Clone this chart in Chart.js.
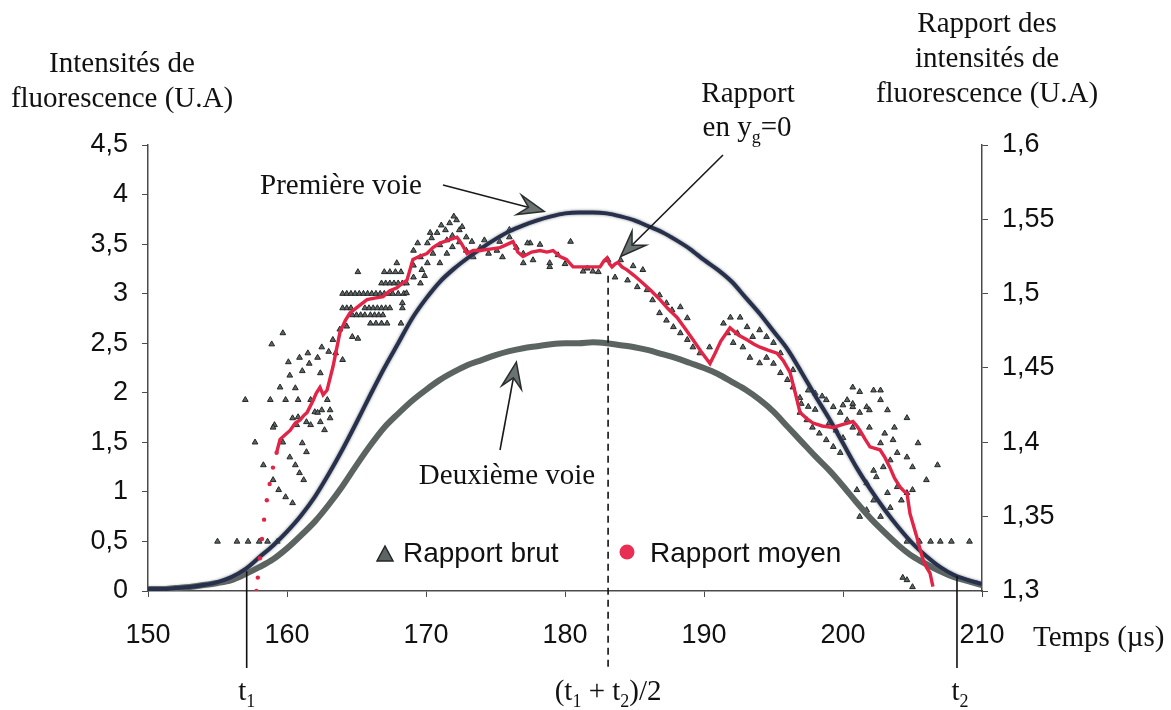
<!DOCTYPE html>
<html>
<head>
<meta charset="utf-8">
<script src="https://cdn.jsdelivr.net/npm/chart.js@4"></script>
<style>
html, body { margin: 0; padding: 0; background: #fff; }
</style>
</head>
<body>
<canvas id="myChart" width="1171" height="710"></canvas>
<script>
// time axis (µs) for both fluorescence channels
var temps = [150,151,152,153,154,155,156,157,158,159,160,161,162,163,164,165,166,167,168,169,170,
             171,172,173,174,175,176,177,178,179,180,181,182,183,184,185,186,187,188,189,190,
             191,192,193,194,195,196,197,198,199,200,201,202,203,204,205,206,207,208,209,210];

var premiereVoie = [0.02,0.02,0.03,0.04,0.06,0.09,0.14,0.22,0.34,0.46,0.60,0.76,0.95,1.18,1.43,1.70,1.98,2.25,2.50,2.75,2.95,
                    3.12,3.25,3.36,3.46,3.55,3.63,3.69,3.74,3.78,3.81,3.82,3.82,3.81,3.78,3.74,3.68,3.62,3.54,3.45,3.34,
                    3.24,3.12,2.96,2.80,2.62,2.44,2.21,1.97,1.74,1.49,1.24,1.02,0.82,0.64,0.48,0.35,0.24,0.16,0.11,0.07];

var deuxiemeVoie = [0.02,0.02,0.03,0.04,0.06,0.08,0.11,0.17,0.24,0.32,0.43,0.56,0.70,0.87,1.06,1.27,1.47,1.65,1.79,1.92,2.03,
                    2.13,2.21,2.28,2.33,2.38,2.42,2.45,2.47,2.49,2.50,2.50,2.51,2.50,2.48,2.46,2.43,2.39,2.35,2.30,2.25,
                    2.19,2.11,2.03,1.93,1.81,1.66,1.51,1.36,1.22,1.06,0.89,0.73,0.59,0.46,0.35,0.27,0.20,0.14,0.10,0.06];

// averaged ratio (right axis)
var moyenX = [157.80,157.90,158.05,158.20,158.35,158.55,158.75,158.99,159.25,159.50,159.85,160.22,160.60,160.94,161.20,161.44,
              161.87,162.10,162.37,162.60,162.88,163.31,163.81,164.20,164.53,165.20,165.76,166.30,166.91,167.40,167.91,168.30,
              168.63,169.06,169.50,170.07,170.50,171.01,171.60,172.23,172.60,172.95,173.40,173.88,174.60,175.32,175.80,176.26,
              176.60,176.98,177.60,178.20,178.70,179.14,179.64,180.10,180.58,181.29,181.90,182.52,182.80,183.02,183.20,183.38,
              183.60,183.81,184.10,184.46,185.00,185.61,186.20,186.83,187.40,188.06,188.60,189.21,189.80,190.43,190.80,191.20,
              191.87,192.50,193.09,193.60,194.03,194.60,195.25,195.70,196.19,196.60,196.91,197.40,197.84,198.50,199.28,200.00,
              200.72,201.00,201.22,201.60,201.94,202.30,202.66,203.00,203.38,203.70,204.10,204.40,204.60,204.82,205.10,205.32,
              205.55,205.76,206.00,206.26,206.47];
var moyenY = [1.300,1.309,1.322,1.335,1.348,1.361,1.372,1.383,1.393,1.402,1.405,1.408,1.413,1.415,1.418,1.420,
              1.428,1.433,1.437,1.432,1.435,1.451,1.474,1.482,1.487,1.492,1.496,1.497,1.498,1.502,1.504,1.507,
              1.509,1.523,1.525,1.527,1.531,1.534,1.536,1.538,1.533,1.527,1.529,1.529,1.530,1.531,1.533,1.535,
              1.528,1.525,1.528,1.529,1.528,1.529,1.525,1.523,1.518,1.518,1.518,1.518,1.522,1.524,1.520,1.518,
              1.520,1.521,1.518,1.516,1.512,1.507,1.502,1.496,1.490,1.484,1.477,1.469,1.461,1.453,1.460,1.468,
              1.477,1.472,1.469,1.466,1.464,1.462,1.460,1.455,1.447,1.432,1.420,1.416,1.413,1.411,1.410,1.412,
              1.414,1.411,1.408,1.402,1.397,1.396,1.395,1.390,1.383,1.376,1.370,1.367,1.366,1.352,1.343,1.336,
              1.328,1.321,1.316,1.312,1.303];

// raw ratio samples [time, ratio]
var brutPoints = [
  [155.0,1.3333],[156.4,1.3333],[157.2,1.3333],[158.0,1.3333],[158.6,1.3333],[159.3,1.3333],
  [157.0,1.4286],[158.8,1.4286],[159.9,1.4286],[160.8,1.4286],[161.7,1.4286],[162.9,1.4286],
  [157.7,1.4000],[158.3,1.3847],[159.0,1.3747],[159.4,1.3680],[159.9,1.3632],[160.4,1.3592],
  [160.2,1.3900],[160.6,1.3847],[160.9,1.3794],[161.2,1.3747],[161.4,1.3935],[161.1,1.3995],
  [159.7,1.4000],[159.1,1.4117],[160.4,1.4163],[160.7,1.4117],[161.7,1.4117],[162.4,1.4137],
  [162.7,1.4083],[163.1,1.4163],[162.0,1.4204],[162.5,1.4217],[159.0,1.4100],[160.8,1.4170],
  [161.4,1.4137],[163.1,1.4217],[162.2,1.4200],
  [159.7,1.4735],[158.9,1.4660],[160.1,1.4540],[161.1,1.4480],[160.9,1.4570],[161.6,1.4530],
  [161.5,1.4600],[162.2,1.4570],[162.5,1.4640],[163.0,1.4610],[163.3,1.4690],[163.8,1.4760],
  [164.3,1.4780],[164.7,1.4710],[160.2,1.4450],[159.5,1.4370],[160.6,1.4365],[162.4,1.4466],
  [164.0,1.4555],[165.1,1.4698],[163.5,1.4600],
  [164.0,1.5000],[164.3,1.5000],[164.6,1.5000],[164.9,1.5000],[165.2,1.5000],[165.5,1.5000],[165.8,1.5000],
  [166.1,1.5000],[166.4,1.5000],[166.7,1.5000],[167.0,1.5000],[167.3,1.5000],[167.6,1.5000],[168.0,1.5000],[168.4,1.5000],
  [164.0,1.4903],[164.3,1.4903],[164.6,1.4903],[165.6,1.4903],[165.9,1.4903],[166.2,1.4903],[166.5,1.4903],
  [166.8,1.4903],[167.1,1.4903],[167.4,1.4903],[168.3,1.4903],
  [164.7,1.4856],[165.0,1.4856],[165.3,1.4856],[165.6,1.4856],[166.0,1.4856],[166.3,1.4856],[166.6,1.4856],[166.9,1.4856],
  [166.0,1.4800],[166.4,1.4800],[166.8,1.4800],[167.2,1.4800],[168.2,1.4800],
  [166.8,1.5070],[167.1,1.5070],[167.4,1.5070],[167.7,1.5070],[168.0,1.5070],[168.3,1.5070],[168.6,1.5070],
  [165.1,1.5146],[167.0,1.5146],[167.4,1.5146],[167.8,1.5146],[168.2,1.5146],[167.9,1.5206],
  [169.1,1.5290],[169.4,1.5340],[169.1,1.5190],[169.6,1.5246],[169.7,1.5160],[170.1,1.5340],[170.4,1.5374],
  [170.1,1.5206],[170.5,1.5270],[170.8,1.5410],[171.0,1.5327],[171.4,1.5428],[171.5,1.5360],[171.7,1.5475],
  [171.9,1.5390],[172.2,1.5495],[172.4,1.5428],[171.0,1.5206],[171.5,1.5270],[171.9,1.5314],[172.4,1.5347],
  [172.9,1.5290],[173.4,1.5246],[173.9,1.5310],[174.5,1.5270],[175.1,1.5290],[175.5,1.5246],[176.0,1.5380],
  [176.5,1.5310],[177.0,1.5270],[177.5,1.5340],[177.7,1.5226],[178.9,1.5180],[179.5,1.5260],[169.1,1.5110],
  [169.6,1.5070],[168.6,1.5004],[168.3,1.4937],[169.9,1.5120],[170.3,1.5410],[171.1,1.5460],[172.0,1.5520],
  [172.6,1.5450],[172.9,1.5380],[173.3,1.5350],
  [174.2,1.5360],[175.3,1.5350],[176.0,1.5430],[177.3,1.5340],[178.2,1.5330],[177.0,1.5206],[178.9,1.5206],
  [180.4,1.5350],[181.6,1.5170],[182.4,1.5146],[183.1,1.5226],[183.6,1.5110],[184.0,1.5226],[184.5,1.5090],
  [184.9,1.5186],[185.6,1.5160],[185.2,1.5045],[185.9,1.5025],[186.3,1.4957],[186.8,1.4990],[187.3,1.4937],
  [187.7,1.4890],[188.3,1.4910],[188.8,1.4836],[186.8,1.4870],[187.3,1.4820],[187.8,1.4776],[188.3,1.4735],
  [188.8,1.4690],[189.2,1.4640],[189.7,1.4600],[181.3,1.5150],[182.0,1.5150],[180.0,1.5200],
  [190.4,1.4640],[191.4,1.4800],[191.9,1.4840],[192.6,1.4840],[193.1,1.4776],[191.7,1.4735],[192.4,1.4735],
  [192.1,1.4670],[192.8,1.4640],[193.5,1.4710],[194.0,1.4755],[194.5,1.4710],[195.0,1.4670],[193.3,1.4570],
  [194.0,1.4533],[194.5,1.4570],[195.0,1.4530],[195.5,1.4600],[195.5,1.4467],[196.0,1.4420],[196.4,1.4370],
  [196.4,1.4487],[196.9,1.4300],[196.9,1.4200],[197.4,1.4150],[197.8,1.4100],[198.3,1.4060],[198.8,1.4016],
  [199.3,1.3970],[199.8,1.3930],[198.8,1.4285],[199.3,1.4238],[199.8,1.4200],[200.3,1.4150],[200.7,1.4100],
  [201.2,1.4060],[200.3,1.4285],[200.7,1.4238],[201.2,1.4200],[200.7,1.4370],[201.7,1.4238],
  [197.0,1.4260],[197.5,1.4240],[198.0,1.4220],[198.0,1.4330],[198.5,1.4310],[197.5,1.4350],[199.0,1.4130],
  [199.5,1.4080],[200.0,1.4030],[200.0,1.4250],[201.2,1.4340],[202.2,1.4350],
  [202.7,1.4350],[204.6,1.4164],[206.8,1.3847],[206.0,1.3747],[205.4,1.3995],[205.0,1.3680],[204.2,1.3610],
  [203.4,1.3560],[202.7,1.3500],[204.6,1.3660],[203.9,1.3700],[203.2,1.3660],[202.2,1.3610],[201.7,1.3545],
  [201.2,1.3500],[202.4,1.3767],[201.7,1.3726],[201.0,1.3680],[202.9,1.3834],[202.2,1.3810],[203.4,1.3880],
  [203.9,1.3930],[203.6,1.4016],[203.0,1.4060],[202.7,1.3995],[204.6,1.3900],[205.0,1.3834],[203.7,1.4100],
  [201.9,1.4100],[201.9,1.4217],[203.2,1.4217],[200.7,1.4260],[202.7,1.4285],
  [204.6,1.3333],[205.5,1.3333],[206.3,1.3333],[207.0,1.3333],[207.8,1.3333],[209.1,1.3333],
  [204.3,1.3090],[204.6,1.3074],[205.0,1.3027]
];

var xTickLabels = ['150','160','170','180','190','200','210'];
var leftTickLabels = ['0','0,5','1','1,5','2','2,5','3','3,5','4','4,5'];
var rightTickLabels = ['1,3','1,35','1,4','1,45','1,5','1,55','1,6'];

// t1, t2 and the midpoint marker
var t1 = 157.1, t2 = 208.2, tMilieu = 183.1;

var serif = "'Liberation Serif', 'Times New Roman', serif";
var sans = "'Liberation Sans', Arial, sans-serif";
var rouge = 'rgb(226,36,70)';

function toXY(xs, ys) {
    var out = [];
    for (var i = 0; i < xs.length; i++) out.push({x: xs[i], y: ys[i]});
    return out;
}

// text with optional subscript pieces: [[text, isSub], ...]
function richText(ctx, parts, x, y, align, size) {
    var sub = Math.round(size * 0.62);
    var w = 0;
    parts.forEach(function (p) {
        ctx.font = (p[1] ? sub : size) + 'px ' + serif;
        w += ctx.measureText(p[0]).width;
    });
    var cx = align === 'center' ? x - w / 2 : x;
    ctx.textAlign = 'left';
    ctx.textBaseline = 'alphabetic';
    parts.forEach(function (p) {
        ctx.font = (p[1] ? sub : size) + 'px ' + serif;
        ctx.fillText(p[0], cx, p[1] ? y + size * 0.24 : y);
        cx += ctx.measureText(p[0]).width;
    });
}

function arrow(ctx, x0, y0, x1, y1) {
    var a = Math.atan2(y1 - y0, x1 - x0);
    var L = 26, W = 10;
    ctx.strokeStyle = '#1a1a1a';
    ctx.lineWidth = 1.6;
    ctx.beginPath();
    ctx.moveTo(x0, y0);
    ctx.lineTo(x1 - Math.cos(a) * L * 0.6, y1 - Math.sin(a) * L * 0.6);
    ctx.stroke();
    ctx.save();
    ctx.translate(x1, y1);
    ctx.rotate(a);
    ctx.beginPath();
    ctx.moveTo(0, 0);
    ctx.lineTo(-L, -W);
    ctx.lineTo(-L * 0.62, 0);
    ctx.lineTo(-L, W);
    ctx.closePath();
    ctx.fillStyle = '#6b7272';
    ctx.fill();
    ctx.strokeStyle = '#2a2e2e';
    ctx.lineWidth = 1.5;
    ctx.stroke();
    ctx.restore();
}

// grey halo under the first channel curve
var halo = {
    id: 'halo',
    beforeDatasetDraw: function (chart, args) {
        if (args.index === 1) {
            chart.ctx.save();
            chart.ctx.shadowColor = 'rgba(110,116,116,0.9)';
            chart.ctx.shadowBlur = 3;
        }
    },
    afterDatasetDraw: function (chart, args) {
        if (args.index === 1) chart.ctx.restore();
    }
};

var annotations = {
    id: 'annotations',
    afterDraw: function (chart) {
        var ctx = chart.ctx;
        var sx = chart.scales.x, yl = chart.scales.yL, yr = chart.scales.yR;
        ctx.save();
        ctx.fillStyle = '#111';

        // t1 / t2 markers and dashed midpoint
        ctx.strokeStyle = '#111';
        ctx.lineWidth = 1.6;
        ctx.beginPath();
        ctx.moveTo(sx.getPixelForValue(t1), yl.getPixelForValue(0.2));
        ctx.lineTo(sx.getPixelForValue(t1), 668);
        ctx.moveTo(sx.getPixelForValue(t2), yl.getPixelForValue(0.15));
        ctx.lineTo(sx.getPixelForValue(t2), 668);
        ctx.stroke();
        ctx.setLineDash([7, 5]);
        ctx.beginPath();
        ctx.moveTo(sx.getPixelForValue(tMilieu), yr.getPixelForValue(1.512));
        ctx.lineTo(sx.getPixelForValue(tMilieu), 668);
        ctx.stroke();
        ctx.setLineDash([]);

        // axis titles
        ctx.fillStyle = '#111';
        richText(ctx, [['Intensités de', 0]], 122, 72, 'center', 29);
        richText(ctx, [['fluorescence (U.A)', 0]], 122, 107, 'center', 29);
        richText(ctx, [['Rapport des', 0]], 987, 32, 'center', 29);
        richText(ctx, [['intensités de', 0]], 987, 67, 'center', 29);
        richText(ctx, [['fluorescence (U.A)', 0]], 987, 102, 'center', 29);
        richText(ctx, [['Temps (µs)', 0]], 1033, 646, 'left', 29);

        // curve labels
        richText(ctx, [['Première voie', 0]], 341, 194, 'center', 29);
        richText(ctx, [['Deuxième voie', 0]], 507, 484, 'center', 29);
        richText(ctx, [['Rapport', 0]], 748, 102, 'center', 29);
        richText(ctx, [['en y', 0], ['g', 1], ['=0', 0]], 747, 136, 'center', 29);

        richText(ctx, [['t', 0], ['1', 1]], sx.getPixelForValue(t1), 700, 'center', 29);
        richText(ctx, [['t', 0], ['2', 1]], sx.getPixelForValue(t2) + 3, 700, 'center', 29);
        richText(ctx, [['(t', 0], ['1', 1], [' + t', 0], ['2', 1], [')/2', 0]], sx.getPixelForValue(tMilieu), 700, 'center', 29);

        // arrows
        arrow(ctx, 443, 185, sx.getPixelForValue(178.5), yl.getPixelForValue(3.83));
        arrow(ctx, 723, 155, sx.getPixelForValue(184.0), yr.getPixelForValue(1.525));
        arrow(ctx, 500, 450, sx.getPixelForValue(176.5), yl.getPixelForValue(2.31));

        // legend
        ctx.beginPath();
        ctx.moveTo(385, 546);
        ctx.lineTo(393, 561);
        ctx.lineTo(377, 561);
        ctx.closePath();
        ctx.fillStyle = '#5d6464';
        ctx.fill();
        ctx.strokeStyle = '#222626';
        ctx.lineWidth = 1.5;
        ctx.stroke();
        ctx.beginPath();
        ctx.arc(627, 552, 7.5, 0, Math.PI * 2);
        ctx.fillStyle = 'rgb(232,48,84)';
        ctx.fill();
        ctx.fillStyle = '#111';
        ctx.font = '28px ' + sans;
        ctx.textAlign = 'left';
        ctx.textBaseline = 'alphabetic';
        ctx.fillText('Rapport brut', 403, 562);
        ctx.fillText('Rapport moyen', 650, 562);
        ctx.restore();
    }
};

var ctx = document.getElementById('myChart').getContext('2d');
var chart = new Chart(ctx, {
    type: 'line',
    data: {
        datasets: [{
            label: 'Rapport moyen',
            data: toXY(moyenX, moyenY),
            yAxisID: 'yR',
            borderColor: rouge,
            borderWidth: 3.4,
            backgroundColor: rouge,
            pointRadius: function (c) { return c.raw && c.raw.x < 159.5 ? 2.2 : 0; },
            pointBorderWidth: 0,
            segment: {
                borderColor: function (c) { return c.p1.parsed.x < 159.5 ? 'rgba(0,0,0,0)' : rouge; }
            },
            tension: 0,
            order: 1
        }, {
            label: 'Première voie',
            data: toXY(temps, premiereVoie),
            yAxisID: 'yL',
            borderColor: '#27304c',
            borderWidth: 4,
            pointRadius: 0,
            cubicInterpolationMode: 'monotone',
            order: 2
        }, {
            label: 'Deuxième voie',
            data: toXY(temps, deuxiemeVoie),
            yAxisID: 'yL',
            borderColor: '#5c6462',
            borderWidth: 6,
            pointRadius: 0,
            cubicInterpolationMode: 'monotone',
            order: 3
        }, {
            label: 'Rapport brut',
            data: brutPoints.map(function (p) { return {x: p[0], y: p[1]}; }),
            yAxisID: 'yR',
            showLine: false,
            pointStyle: 'triangle',
            pointRadius: 3.3,
            backgroundColor: '#5d6464',
            borderColor: '#222626',
            borderWidth: 1,
            order: 4
        }]
    },
    options: {
        responsive: false,
        animation: false,
        layout: { padding: { top: 145, left: 0, right: 0, bottom: 0 } },
        plugins: { legend: { display: false }, tooltip: { enabled: false } },
        scales: {
            x: {
                type: 'linear',
                position: 'bottom',
                min: 150,
                max: 210,
                afterFit: function (s) { s.height = 119; },
                border: { color: '#4a4a4a', width: 1.5 },
                grid: { drawOnChartArea: false, drawTicks: true, tickLength: 6, color: '#4a4a4a' },
                ticks: {
                    stepSize: 10,
                    padding: 22,
                    color: '#111',
                    font: { family: sans, size: 27 },
                    callback: function (v, i) { return xTickLabels[i]; }
                }
            },
            yL: {
                type: 'linear',
                position: 'left',
                min: 0,
                max: 4.5,
                afterFit: function (s) { s.width = 148; },
                border: { color: '#4a4a4a', width: 1.5 },
                grid: { drawOnChartArea: false, drawTicks: true, tickLength: 6, color: '#4a4a4a' },
                ticks: {
                    stepSize: 0.5,
                    padding: 14,
                    color: '#111',
                    font: { family: sans, size: 27 },
                    callback: function (v, i) { return leftTickLabels[i]; }
                }
            },
            yR: {
                type: 'linear',
                position: 'right',
                min: 1.3,
                max: 1.6,
                afterFit: function (s) { s.width = 189; },
                border: { color: '#4a4a4a', width: 1.5 },
                grid: { drawOnChartArea: false, drawTicks: true, tickLength: 6, color: '#4a4a4a' },
                ticks: {
                    stepSize: 0.05,
                    padding: 14,
                    color: '#111',
                    font: { family: sans, size: 27 },
                    callback: function (v, i) { return rightTickLabels[i]; }
                }
            }
        }
    },
    plugins: [halo, annotations]
});
</script>
</body>
</html>
